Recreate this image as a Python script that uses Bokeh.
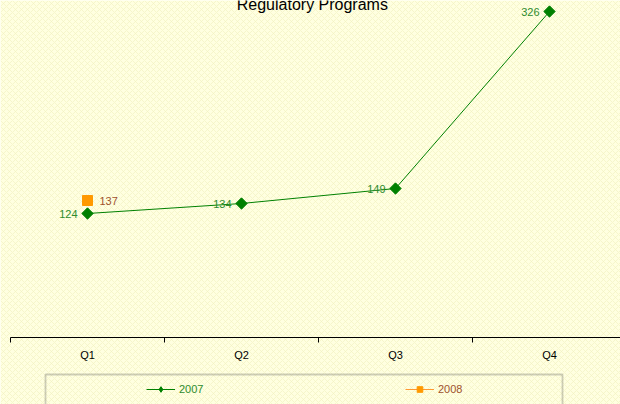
import numpy as np
from bokeh.plotting import figure
from bokeh.models import (Range1d, FixedTicker, Legend, LegendItem, BoxAnnotation,
                          Label)
from bokeh.core.properties import value
from bokeh.embed import file_html
from bokeh.resources import INLINE

# ---- data ----
quarters = ["Q1", "Q2", "Q3", "Q4"]
v2007 = [124, 134, 149, 326]
v2008 = [137]
title_text = "Regulatory Programs"

FONT = "Liberation Sans"
GREEN = "#008000"
GREEN_TXT = "#2E8B2E"
ORANGE = "#FF9900"
BROWN = "#A0522D"
BG = "#FFFFE0"

xpos = np.arange(len(quarters)) + 0.5

p = figure(width=620, height=404,
           x_range=Range1d(-10 / 154, 610 / 154), y_range=Range1d(-67, 337),
           min_border=0, toolbar_location=None, output_backend="svg",
           y_axis_location=None, x_axis_location="below")
p.outline_line_color = None
p.background_fill_color = BG
p.border_fill_color = BG
p.grid.visible = False

# subtle lattice pattern of the background
p.add_layout(BoxAnnotation(fill_alpha=0, line_alpha=0, hatch_pattern="x",
                           hatch_color="#F2F2C2", hatch_scale=6, hatch_weight=1,
                           hatch_alpha=0.7, level="underlay"))

# axis at y = 0
ax = p.xaxis[0]
ax.fixed_location = 0
ax.bounds = (0, len(quarters))
ax.ticker = FixedTicker(ticks=list(xpos), minor_ticks=list(range(len(quarters) + 1)))
ax.major_label_overrides = {float(x): q for x, q in zip(xpos, quarters)}
ax.major_tick_out = 0
ax.major_tick_in = 0
ax.minor_tick_out = 5
ax.minor_tick_in = 0
ax.axis_line_color = "#000000"
ax.minor_tick_line_color = "#000000"
ax.major_label_standoff = 6
ax.major_label_text_font = FONT
ax.major_label_text_font_size = "11px"
ax.major_label_text_color = "#000000"

# 2007 series
r_l07 = p.line(xpos, v2007, line_color=GREEN, line_width=1)
# diamond used for the legend swatch (hidden under the markers below)
r_k07 = p.scatter(xpos, v2007, marker="diamond", size=9,
                  fill_color=GREEN, line_color=GREEN)
p.scatter(xpos, v2007, marker="square", angle=np.pi / 4, size=8,
          fill_color=GREEN, line_color=GREEN)
p.text(xpos, v2007, text=[str(v) for v in v2007], x_offset=-10,
       text_align="right", text_baseline="middle", text_font=value(FONT),
       text_font_size="11px", text_color=GREEN_TXT)

# 2008 series
x08 = xpos[:len(v2008)]
r_l08 = p.line(x08, v2008, line_color="#FF9933", line_width=1)
r_s08 = p.scatter(x08, v2008, marker="square", size=10,
                  fill_color=ORANGE, line_color=ORANGE)
p.text(x08, v2008, text=[str(v) for v in v2008], x_offset=12,
       text_align="left", text_baseline="middle", text_font=value(FONT),
       text_font_size="11px", text_color=BROWN)

# title (cut at the top as in the reference)
p.add_layout(Label(x=len(quarters) / 2 - 0.04, y=333, text=title_text,
                   text_align="center", text_baseline="alphabetic",
                   text_font=FONT, text_font_size="16px", text_color="#000000"))

# legend box
p.add_layout(BoxAnnotation(left=35 / 154, right=552 / 154, top=-37, bottom=-90,
                           fill_alpha=0, line_color="#5A5A5A", line_width=1.8))


def make_legend(label, rends, loc, color):
    lg = Legend(items=[LegendItem(label=label, renderers=rends)], location=loc,
                orientation="horizontal", padding=0, margin=0, spacing=0,
                border_line_color=None, background_fill_alpha=0,
                glyph_width=29, glyph_height=14, label_height=14,
                label_standoff=4, label_text_font=FONT,
                label_text_font_size="11px", label_text_color=color)
    p.add_layout(lg)


make_legend("2007", [r_l07, r_k07], (146, 8), GREEN_TXT)
make_legend("2008", [r_l08, r_s08], (405, 8), BROWN)

open("out.html", "w").write(file_html(p, INLINE))
